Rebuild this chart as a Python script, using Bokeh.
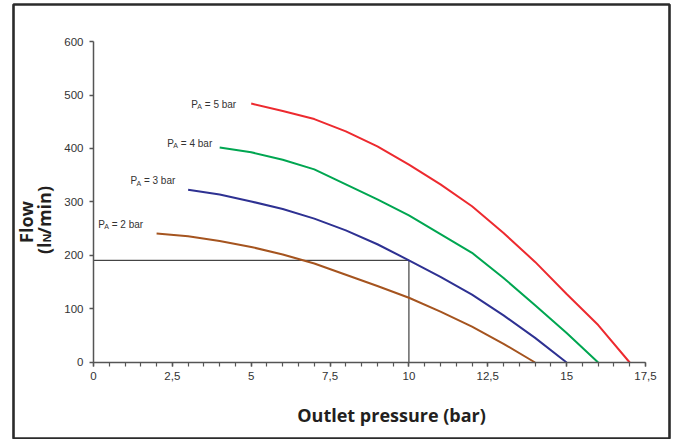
import math
from bokeh.plotting import figure
from bokeh.models import FixedTicker, Label, Range1d
from bokeh.embed import file_html
from bokeh.resources import INLINE

# ---- data ----
p5_x = [5, 6, 7, 8, 9, 10, 11, 12, 13, 14, 15, 16, 17]
p5_y = [484, 470, 455, 432, 404, 370, 333, 292, 242, 188, 128, 70, 0]
p4_x = [4, 5, 6, 7, 8, 9, 10, 11, 12, 13, 14, 15, 16]
p4_y = [402, 393, 379, 361, 333, 305, 275, 240, 205, 158, 107, 55, 0]
p3_x = [3, 4, 5, 6, 7, 8, 9, 10, 11, 12, 13, 14, 15]
p3_y = [323, 314, 301, 287, 269, 247, 221, 191, 160, 127, 88, 46, 0]
p2_x = [2, 3, 4, 5, 6, 7, 8, 9, 10, 11, 12, 13, 14]
p2_y = [241, 236, 227, 216, 202, 185, 164, 143, 121, 95, 67, 35, 0]
ref_x = [0, 10, 10]
ref_y = [191, 191, 0]
series_labels = ["5 bar", "4 bar", "3 bar", "2 bar"]

x_major = [0, 2.5, 5, 7.5, 10, 12.5, 15, 17.5]
x_labels = ["0", "2,5", "5", "7,5", "10", "12,5", "15", "17,5"]
x_minor = [0, 0.5, 1, 1.5, 2, 2.5, 3, 3.5, 4, 4.5, 5, 5.5, 6, 6.5, 7, 7.5, 8, 8.5,
           9, 9.5, 10, 10.5, 11, 11.5, 12, 12.5, 13, 13.5, 14, 14.5, 15, 15.5,
           16, 16.5, 17, 17.5]
y_major = [0, 100, 200, 300, 400, 500, 600]

x_title = "Outlet pressure (bar)"
y_title_1 = "Flow"

# ---- figure ----
p = figure(width=673, height=439,
           x_range=Range1d(-2.5362, 18.2609), y_range=Range1d(-142.06, 669.16),
           output_backend="svg", toolbar_location=None,
           min_border_left=13, min_border_right=4, min_border_top=4, min_border_bottom=1)
p.outline_line_color = "#2b2b2b"
p.outline_line_width = 2.6
p.xgrid.visible = False
p.ygrid.visible = False
p.background_fill_color = "white"
p.border_fill_color = "white"

p.xaxis.fixed_location = 0
p.yaxis.fixed_location = 0
p.xaxis.bounds = (0, 17.5)
p.yaxis.bounds = (0, 600)
p.xaxis.ticker = FixedTicker(ticks=x_major, minor_ticks=x_minor)
p.xaxis.major_label_overrides = {float(k): v for k, v in zip(x_major, x_labels)}
p.yaxis.ticker = FixedTicker(ticks=y_major)
for ax in (p.xaxis, p.yaxis):
    ax.axis_line_color = "#555555"
    ax.axis_line_width = 1.5
    ax.major_tick_line_color = "#555555"
    ax.major_tick_line_width = 1.5
    ax.minor_tick_line_color = "#555555"
    ax.minor_tick_line_width = 1.2
    ax.major_tick_in = 0
    ax.major_tick_out = 4
    ax.minor_tick_in = 0
    ax.minor_tick_out = 4
    ax.major_label_standoff = 6
    ax.major_label_text_font = "Liberation Sans"
    ax.major_label_text_font_size = "11.5px"
    ax.major_label_text_color = "#333333"
p.yaxis.minor_tick_line_color = None

# ---- curves ----
p.line(ref_x, ref_y, line_color="#1a1a1a", line_width=1)
p.line(p2_x, p2_y, line_color="#A5541F", line_width=2)
p.line(p3_x, p3_y, line_color="#2E3192", line_width=2)
p.line(p4_x, p4_y, line_color="#00A651", line_width=2)
p.line(p5_x, p5_y, line_color="#ED2A2F", line_width=2)

# ---- curve labels: P_A = n bar ----
label_pos = [(3.10, 483), (2.34, 410), (1.17, 340), (0.15, 258)]
for (lx, ly), txt in zip(label_pos, series_labels):
    common = dict(x=lx, y=ly, text_font="Liberation Sans", text_color="#333333",
                  text_baseline="middle", text_align="left")
    p.add_layout(Label(text="P", text_font_size="10px", **common))
    p.add_layout(Label(text="A", text_font_size="7px", x_offset=6.0, y_offset=-2.5, **common))
    p.add_layout(Label(text="= " + txt, text_font_size="10px", x_offset=13.5, **common))

# ---- axis titles ----
p.add_layout(Label(x=9.45, y=-98, text=x_title, text_font="Open Sans", text_font_style="bold",
                   text_font_size="18px", text_align="center", text_baseline="middle",
                   text_color="#231f20"))
p.add_layout(Label(x=-2.14, y=262.6, text=y_title_1, text_font="Open Sans", text_font_style="bold",
                   text_font_size="18px", text_align="center", text_baseline="middle",
                   angle=math.pi / 2, text_color="#231f20"))
yt = dict(x=-1.57, y=224.3, text_font="Open Sans", text_font_style="bold",
          text_baseline="middle", angle=math.pi / 2, text_color="#231f20")
p.add_layout(Label(text="(l", text_font_size="18px", text_align="right", **yt))
p.add_layout(Label(text="N", text_font_size="11px", text_align="left", x_offset=3, **yt))
p.add_layout(Label(text="/min)", text_font_size="18px", text_align="left", y_offset=8, **yt))

open("out.html", "w").write(file_html(p, INLINE))
